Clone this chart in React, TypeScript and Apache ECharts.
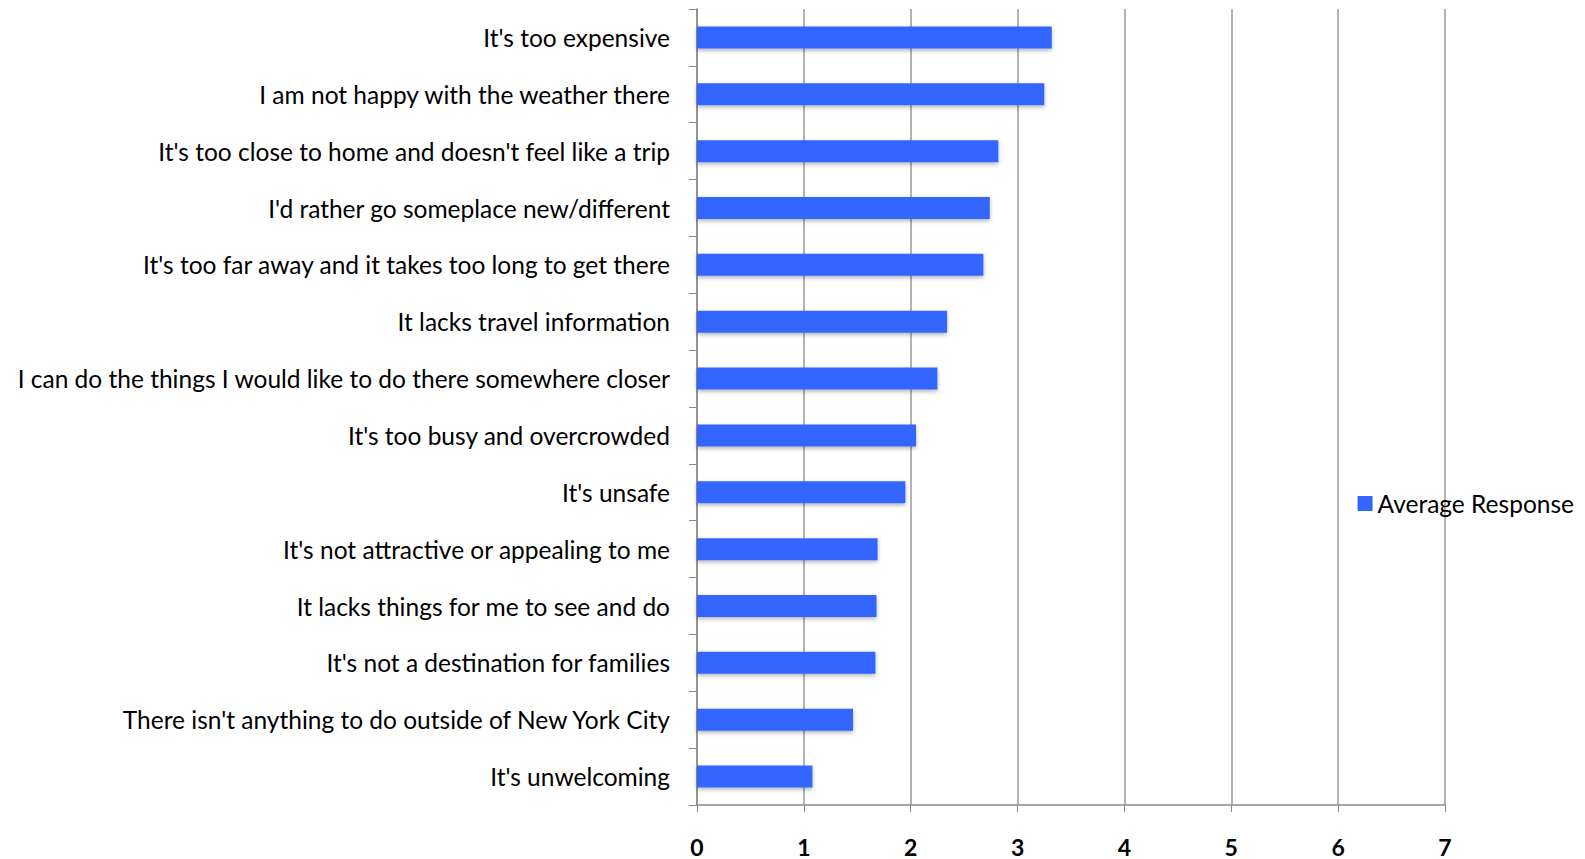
import React, { useEffect, useRef } from "react";
import * as echarts from "echarts";

const categories = [
  "It's too expensive",
  "I am not happy with the weather there",
  "It's too close to home and doesn't feel like a trip",
  "I'd rather go someplace new/different",
  "It's too far away and it takes too long to get there",
  "It lacks travel information",
  "I can do the things I would like to do there somewhere closer",
  "It's too busy and overcrowded",
  "It's unsafe",
  "It's not attractive or appealing to me",
  "It lacks things for me to see and do",
  "It's not a destination for families",
  "There isn't anything to do outside of New York City",
  "It's unwelcoming",
];

const averageResponse = [3.32, 3.25, 2.82, 2.74, 2.68, 2.34, 2.25, 2.05, 1.95, 1.69, 1.68, 1.67, 1.46, 1.08];

const seriesName = "Average Response";
const xMin = 0;
const xMax = 7;
const xInterval = 1;

export default function App() {
  const ref = useRef<HTMLDivElement>(null);
  useEffect(() => {
    document.body.style.margin = "0";
    const chart = echarts.init(ref.current!, null, { renderer: "svg" });
    chart.setOption({
      animation: false,
      backgroundColor: "#ffffff",
      textStyle: { fontFamily: "Lato" },
      grid: { left: 697, right: 140, top: 9, bottom: 54, containLabel: false },
      legend: {
        data: [seriesName],
        right: 6,
        top: 486,
        icon: "rect",
        itemWidth: 15,
        itemHeight: 15,
        itemGap: 6,
        textStyle: { fontSize: 24.5, color: "#000", fontFamily: "Lato" },
      },
      xAxis: {
        type: "value",
        min: xMin,
        max: xMax,
        interval: xInterval,
        axisLine: { show: true, lineStyle: { color: "#8a8a8a", width: 1.5 } },
        axisTick: { show: true, length: 7, lineStyle: { color: "#8a8a8a" } },
        axisLabel: { fontSize: 23, fontWeight: "bold", color: "#000", margin: 30, fontFamily: "Lato" },
        splitLine: { show: true, lineStyle: { color: "#9a9a9a", width: 1.5 } },
      },
      yAxis: {
        type: "category",
        inverse: true,
        data: categories,
        axisLine: { show: true, lineStyle: { color: "#8a8a8a", width: 1.5 } },
        axisTick: { show: true, length: 8, alignWithLabel: false, lineStyle: { color: "#8a8a8a" } },
        axisLabel: { fontSize: 24.5, color: "#000", margin: 27, fontFamily: "Lato" },
      },
      series: [
        {
          name: seriesName,
          type: "bar",
          data: averageResponse,
          barWidth: 22,
          itemStyle: {
            color: "#3366ff",
            shadowBlur: 4,
            shadowColor: "rgba(0,0,0,0.3)",
            shadowOffsetY: 2,
          },
        },
      ],
    });
    return () => chart.dispose();
  }, []);
  return <div ref={ref} style={{ width: 1585, height: 859 }} />;
}
